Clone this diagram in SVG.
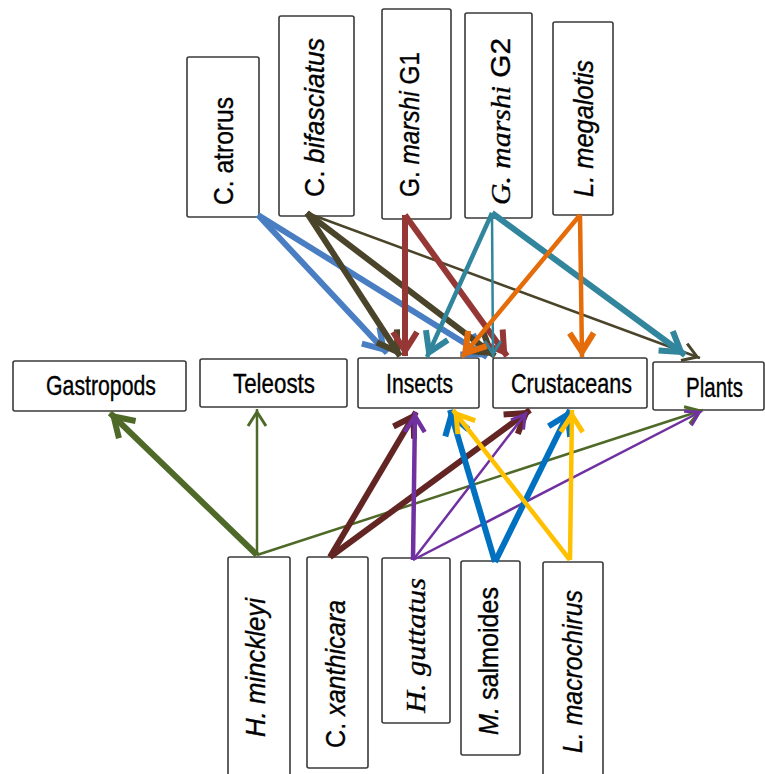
<svg xmlns="http://www.w3.org/2000/svg" width="765" height="774" viewBox="0 0 765 774">
<style>
.box{fill:#fff;stroke:#3a3a3a;stroke-width:1.6}
.t{font-family:"Liberation Sans",Arial,sans-serif;font-size:28px;fill:#000;stroke:#000;stroke-width:0.35}
.i{font-style:italic}
.sf{font-family:"Liberation Serif","Times New Roman",serif}
.c line{fill:none}
.k{stroke-width:6}
.m{stroke-width:4.5}
.n{stroke-width:2.5}
.hb{fill:none;stroke-width:6;stroke-linejoin:miter}
.hs{fill:none;stroke-width:3;stroke-linejoin:miter}
.blue1{stroke:#4A7EC2}.olive{stroke:#4A442A}.red{stroke:#953735}.teal{stroke:#31859C}.orange{stroke:#E46C0A}
.green{stroke:#4F6A28}.maroon{stroke:#632523}.purple{stroke:#7030A0}.blue2{stroke:#0070C0}.yellow{stroke:#FFC000}
</style>
<defs>
<marker id="b-blue1" viewBox="-30 -20 40 40" markerWidth="40" markerHeight="40" refX="0" refY="0" orient="auto" markerUnits="userSpaceOnUse"><path class="hb blue1" d="M-24,-12 L-5,0 L-24,12"/></marker>
<marker id="b-olive" viewBox="-30 -20 40 40" markerWidth="40" markerHeight="40" refX="0" refY="0" orient="auto" markerUnits="userSpaceOnUse"><path class="hb olive" d="M-24,-12 L-5,0 L-24,12"/></marker>
<marker id="s-olive" viewBox="-30 -20 40 40" markerWidth="40" markerHeight="40" refX="0" refY="0" orient="auto" markerUnits="userSpaceOnUse"><path class="hs olive" d="M-17,-9 L-3,0 L-17,9"/></marker>
<marker id="b-red" viewBox="-30 -20 40 40" markerWidth="40" markerHeight="40" refX="0" refY="0" orient="auto" markerUnits="userSpaceOnUse"><path class="hb red" d="M-24,-12 L-5,0 L-24,12"/></marker>
<marker id="b-teal" viewBox="-30 -20 40 40" markerWidth="40" markerHeight="40" refX="0" refY="0" orient="auto" markerUnits="userSpaceOnUse"><path class="hb teal" d="M-24,-12 L-5,0 L-24,12"/></marker>
<marker id="s-teal" viewBox="-30 -20 40 40" markerWidth="40" markerHeight="40" refX="0" refY="0" orient="auto" markerUnits="userSpaceOnUse"><path class="hs teal" d="M-16,-8 L-3,0 L-16,8"/></marker>
<marker id="b-orange" viewBox="-30 -20 40 40" markerWidth="40" markerHeight="40" refX="0" refY="0" orient="auto" markerUnits="userSpaceOnUse"><path class="hb orange" d="M-24,-12 L-5,0 L-24,12"/></marker>
<marker id="b-green" viewBox="-30 -20 40 40" markerWidth="40" markerHeight="40" refX="0" refY="0" orient="auto" markerUnits="userSpaceOnUse"><path class="hb green" d="M-24,-12 L-5,0 L-24,12"/></marker>
<marker id="s-green" viewBox="-30 -20 40 40" markerWidth="40" markerHeight="40" refX="0" refY="0" orient="auto" markerUnits="userSpaceOnUse"><path class="hs green" d="M-17,-9 L-3,0 L-17,9"/></marker>
<marker id="b-maroon" viewBox="-30 -20 40 40" markerWidth="40" markerHeight="40" refX="0" refY="0" orient="auto" markerUnits="userSpaceOnUse"><path class="hb maroon" d="M-24,-12 L-5,0 L-24,12"/></marker>
<marker id="b-purple" viewBox="-30 -20 40 40" markerWidth="40" markerHeight="40" refX="0" refY="0" orient="auto" markerUnits="userSpaceOnUse"><path class="hs purple" style="stroke-width:4.5" d="M-20,-10 L-4,0 L-20,10"/></marker>
<marker id="s-purple" viewBox="-30 -20 40 40" markerWidth="40" markerHeight="40" refX="0" refY="0" orient="auto" markerUnits="userSpaceOnUse"><path class="hs purple" d="M-16,-8 L-3,0 L-16,8"/></marker>
<marker id="b-blue2" viewBox="-30 -20 40 40" markerWidth="40" markerHeight="40" refX="0" refY="0" orient="auto" markerUnits="userSpaceOnUse"><path class="hb blue2" d="M-24,-12 L-5,0 L-24,12"/></marker>
<marker id="b-yellow" viewBox="-30 -20 40 40" markerWidth="40" markerHeight="40" refX="0" refY="0" orient="auto" markerUnits="userSpaceOnUse"><path class="hb yellow" style="stroke-width:5" d="M-22,-11 L-5,0 L-22,11"/></marker>
</defs>

<g id="n-atrorus"><rect class="box" x="187" y="57" width="72" height="160" rx="2"/><text class="t" transform="translate(233,205) rotate(-90)" textLength="108" lengthAdjust="spacingAndGlyphs">C. atrorus</text></g>
<g id="n-bifasciatus"><rect class="box" x="279" y="16" width="75" height="200" rx="2"/><text class="t" transform="translate(324,197) rotate(-90)" textLength="159" lengthAdjust="spacingAndGlyphs">C. <tspan class="i">bifasciatus</tspan></text></g>
<g id="n-marshiG1"><rect class="box" x="382" y="9" width="69" height="210" rx="2"/><text class="t" transform="translate(419,197) rotate(-90)" textLength="145" lengthAdjust="spacingAndGlyphs">G. <tspan class="i">marshi</tspan> G1</text></g>
<g id="n-marshiG2"><rect class="box" x="465" y="13" width="67" height="205" rx="2"/><text class="t" transform="translate(510,205) rotate(-90)" textLength="167" lengthAdjust="spacingAndGlyphs"><tspan class="i sf">G. marshi</tspan> G2</text></g>
<g id="n-megalotis"><rect class="box" x="553" y="22" width="60" height="193" rx="2"/><text class="t i" transform="translate(593,197) rotate(-90)" textLength="137" lengthAdjust="spacingAndGlyphs">L. megalotis</text></g>

<g id="n-gastropods"><rect class="box" x="13" y="361" width="173" height="50" rx="2"/><text class="t" x="46" y="395" textLength="110" lengthAdjust="spacingAndGlyphs">Gastropods</text></g>
<g id="n-teleosts"><rect class="box" x="200" y="359" width="147" height="48" rx="2"/><text class="t" x="233" y="393" textLength="82" lengthAdjust="spacingAndGlyphs">Teleosts</text></g>
<g id="n-insects"><rect class="box" x="358" y="358" width="121" height="50" rx="2"/><text class="t" x="386" y="393" textLength="67" lengthAdjust="spacingAndGlyphs">Insects</text></g>
<g id="n-crustaceans"><rect class="box" x="493" y="358" width="154" height="50" rx="2"/><text class="t" x="511" y="393" textLength="121" lengthAdjust="spacingAndGlyphs">Crustaceans</text></g>
<g id="n-plants"><rect class="box" x="653" y="362" width="111" height="48" rx="2"/><text class="t" x="686" y="397" textLength="57" lengthAdjust="spacingAndGlyphs">Plants</text></g>

<g id="n-minckleyi"><rect class="box" x="228" y="557" width="62" height="222" rx="2"/><text class="t i" transform="translate(265,737) rotate(-90)" textLength="139" lengthAdjust="spacingAndGlyphs">H. minckleyi</text></g>
<g id="n-xanthicara"><rect class="box" x="307" y="557" width="61" height="211" rx="2"/><text class="t" transform="translate(345,748) rotate(-90)" textLength="148" lengthAdjust="spacingAndGlyphs">C. <tspan class="i">xanthicara</tspan></text></g>
<g id="n-guttatus"><rect class="box" x="382" y="558" width="68" height="165" rx="2"/><text class="t i sf" transform="translate(425,713) rotate(-90)" textLength="135" lengthAdjust="spacingAndGlyphs">H. guttatus</text></g>
<g id="n-salmoides"><rect class="box" x="461" y="561" width="59" height="194" rx="2"/><text class="t" transform="translate(498,735) rotate(-90)" textLength="148" lengthAdjust="spacingAndGlyphs"><tspan class="i">M.</tspan> salmoides</text></g>
<g id="n-macrochirus"><rect class="box" x="543" y="562" width="60" height="217" rx="2"/><text class="t i" transform="translate(582,753) rotate(-90)" textLength="163" lengthAdjust="spacingAndGlyphs">L. macrochirus</text></g>

<g id="connectors" class="c">
<line class="blue1 k" x1="258" y1="215" x2="387" y2="353" marker-end="url(#b-blue1)"/>
<line class="blue1 k" x1="258" y1="215" x2="487" y2="357" marker-end="url(#b-blue1)"/>
<line class="olive n" x1="307" y1="213" x2="700" y2="358" marker-end="url(#s-olive)"/>
<line class="olive k" x1="307" y1="213" x2="400" y2="356" marker-end="url(#b-olive)"/>
<line class="olive k" x1="307" y1="213" x2="495" y2="356" marker-end="url(#b-olive)"/>
<line class="red k" x1="405" y1="215" x2="405" y2="356" marker-end="url(#b-red)"/>
<line class="red k" x1="405" y1="215" x2="507" y2="356" marker-end="url(#b-red)"/>
<line class="teal m" x1="492" y1="213" x2="427" y2="357" marker-end="url(#b-teal)"/>
<line class="teal n" x1="492" y1="213" x2="493" y2="357" marker-end="url(#s-teal)"/>
<line class="teal k" x1="492" y1="213" x2="685" y2="355" marker-end="url(#b-teal)"/>
<line class="orange m" x1="580" y1="215" x2="462" y2="357" marker-end="url(#b-orange)"/>
<line class="orange m" x1="580" y1="215" x2="582" y2="357" marker-end="url(#b-orange)"/>

<line class="green k" x1="257" y1="555" x2="110" y2="413" marker-end="url(#b-green)"/>
<line class="green n" x1="257" y1="555" x2="257" y2="409" marker-end="url(#s-green)"/>
<line class="green n" x1="257" y1="555" x2="703" y2="410" marker-end="url(#s-green)"/>
<line class="maroon k" x1="330" y1="557" x2="416" y2="412" marker-end="url(#b-maroon)"/>
<line class="maroon k" x1="330" y1="557" x2="530" y2="410" marker-end="url(#b-maroon)"/>
<line class="purple m" x1="413" y1="560" x2="415" y2="412" marker-end="url(#b-purple)"/>
<line class="purple n" x1="413" y1="560" x2="527" y2="412" marker-end="url(#s-purple)"/>
<line class="purple n" x1="413" y1="560" x2="702" y2="411" marker-end="url(#s-purple)"/>
<line class="blue2 k" x1="495" y1="562" x2="450" y2="410" marker-end="url(#b-blue2)"/>
<line class="blue2 k" x1="495" y1="562" x2="570" y2="410" marker-end="url(#b-blue2)"/>
<line class="yellow m" x1="570" y1="560" x2="453" y2="410" marker-end="url(#b-yellow)"/>
<line class="yellow m" x1="570" y1="560" x2="572" y2="410" marker-end="url(#b-yellow)"/>
</g>
</svg>
